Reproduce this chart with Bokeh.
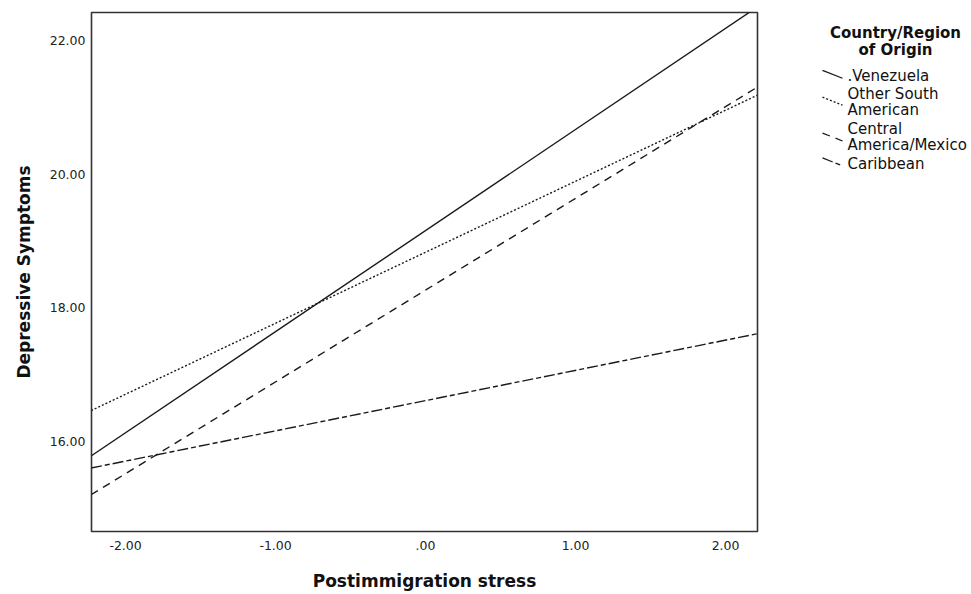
from bokeh.plotting import figure
from bokeh.layouts import row
from bokeh.models import Range1d, FixedTicker
from bokeh.core.properties import value
from bokeh.embed import file_html
from bokeh.resources import INLINE

# ---- data (predicted values at the ends of the stress range) ----
stress_ends = [-2.23, 2.21]
venezuela = [15.78, 22.50]
other_south_american = [16.46, 21.18]
central_america_mexico = [15.20, 21.30]
caribbean = [15.60, 17.61]

series_names = [".Venezuela", "Other South\nAmerican", "Central\nAmerica/Mexico", "Caribbean"]
series_values = [venezuela, other_south_american, central_america_mexico, caribbean]
series_dash = ["solid", "2 2", "8 6", "11 3 5 3"]

x_ticks = [-2, -1, 0, 1, 2]
x_tick_labels = ["-2.00", "-1.00", ".00", "1.00", "2.00"]
y_ticks = [16, 18, 20, 22]
y_tick_labels = ["16.00", "18.00", "20.00", "22.00"]

FONT = "DejaVu Sans"
H = 593
TOP = 12
BOTTOM_BORDER = 60

p = figure(width=760, height=H, output_backend="svg", toolbar_location=None,
           x_range=Range1d(-2.227, 2.213), y_range=Range1d(14.65, 22.42),
           min_border_left=91, min_border_right=3, min_border_top=TOP,
           min_border_bottom=BOTTOM_BORDER)
p.grid.visible = False
p.outline_line_color = "#333333"
p.outline_line_width = 1.6
p.background_fill_color = "white"
p.border_fill_color = "white"

for vals, dash in zip(series_values, series_dash):
    p.line(stress_ends, vals, line_color="#1a1a1a", line_width=1.4, line_dash=dash)

for ax in (p.xaxis[0], p.yaxis[0]):
    ax.axis_line_color = None
    ax.major_tick_line_color = None
    ax.minor_tick_line_color = None
    ax.major_tick_out = 0
    ax.major_tick_in = 0
    ax.minor_tick_out = 0
    ax.minor_tick_in = 0
    ax.major_label_text_font = FONT
    ax.major_label_text_font_size = "12.5px"
    ax.major_label_text_color = "#222222"
    ax.axis_label_text_font = FONT
    ax.axis_label_text_font_style = "bold"
    ax.axis_label_text_font_size = "17px"
    ax.axis_label_text_color = "#111111"

p.xaxis.ticker = FixedTicker(ticks=x_ticks)
p.xaxis.major_label_overrides = {t: l for t, l in zip(x_ticks, x_tick_labels)}
p.xaxis.axis_label = "Postimmigration stress"
p.xaxis.major_label_standoff = 9
p.xaxis.axis_label_standoff = 18

p.yaxis.ticker = FixedTicker(ticks=y_ticks)
p.yaxis.major_label_overrides = {t: l for t, l in zip(y_ticks, y_tick_labels)}
p.yaxis.axis_label = "Depressive Symptoms"
p.yaxis.major_label_standoff = 6
p.yaxis.axis_label_standoff = 13

# ---- legend panel (SPSS-style slanted keys), page-pixel coordinates ----
# the row aligns this panel's frame with the main frame, so map its y range
# onto the same pixel span (top = TOP, bottom = H - BOTTOM_BORDER)
LW = 208
lg = figure(width=LW, height=H, output_backend="svg", toolbar_location=None,
            x_range=Range1d(0, LW), y_range=Range1d(H - BOTTOM_BORDER, TOP),
            min_border=0, min_border_left=0, min_border_right=0,
            min_border_top=TOP, min_border_bottom=BOTTOM_BORDER)
lg.axis.visible = False
lg.grid.visible = False
lg.outline_line_color = None
lg.background_fill_color = "white"
lg.border_fill_color = "white"

lg.text(x=[135, 135], y=[33, 50], text=["Country/Region", "of Origin"],
        text_font=value(FONT), text_font_style="bold", text_font_size="15px",
        text_align="center", text_baseline="middle", text_color="#111111")

key_top = [70, 97, 133, 158]
text_first = [76, 94, 129, 164]
for name, dash, ky, ty in zip(series_names, series_dash, key_top, text_first):
    lg.segment(x0=[62], y0=[ky], x1=[82], y1=[ky + 8],
               line_color="#1a1a1a", line_width=1.3, line_dash=dash)
    lines = name.split("\n")
    lg.text(x=[87] * len(lines), y=[ty + 16 * i for i in range(len(lines))], text=lines,
            text_font=value(FONT), text_font_size="15px",
            text_align="left", text_baseline="middle", text_color="#111111")

layout = row(p, lg)
open("out.html", "w").write(file_html(layout, INLINE))
